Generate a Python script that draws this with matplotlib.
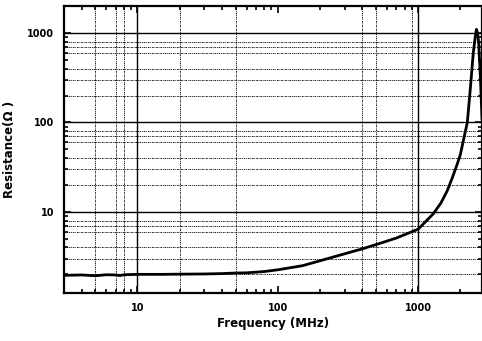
import matplotlib.pyplot as plt

# frequency in MHz, resistance in ohm
freq = [3, 4, 5, 6, 7, 7.5, 8, 10, 15, 20, 30, 40, 50, 60, 80, 100,
        150, 200, 300, 400, 500, 700, 1000, 1280, 1450, 1610, 1750,
        1900, 2000, 2100, 2240, 2350, 2470, 2550, 2600, 2650, 2700, 2780, 2850]
res = [1.95, 1.97, 1.93, 1.98, 1.97, 1.94, 1.98, 2.0, 2.0, 2.01, 2.02, 2.04, 2.07, 2.08, 2.15, 2.25,
       2.5, 2.84, 3.4, 3.86, 4.3, 5.1, 6.4, 9.5, 12.5, 17.2, 24,
       34.4, 44, 63, 100, 233, 600, 900, 1100, 1000, 770, 300, 110]

x_solid = [10, 1000]
x_dash = [5, 7, 8, 20, 50, 400, 500, 900]
y_solid = [10, 100, 1000]
y_dash = [m * d for d in (1, 10, 100) for m in (2, 3, 4, 6, 7, 8)]
major = [10, 100, 1000]
major_labels = ['10', '100', '1000']
x_minor = [m * d for d in (1, 10, 100, 1000) for m in range(2, 10) if 3 <= m * d <= 2850 and m * d not in major]
y_minor = [m * d for d in (1, 10, 100, 1000) for m in range(2, 10) if 1.24 <= m * d <= 2000 and m * d not in major]

fig = plt.figure(figsize=(4.82, 3.41), dpi=100)
ax = fig.add_axes([0.133, 0.141, 0.867, 0.841])
ax.set_xscale('log')
ax.set_yscale('log')

dash = (0, (2, 1, 1, 1))
for v in x_dash:
    ax.axvline(v, color='black', lw=0.6, ls=dash, zorder=1)
for v in x_solid:
    ax.axvline(v, color='black', lw=1.0, zorder=1)
for v in y_dash:
    ax.axhline(v, color='black', lw=0.6, ls=dash, zorder=1)
for v in y_solid:
    ax.axhline(v, color='black', lw=1.0, zorder=1)

ax.plot(freq, res, color='black', lw=2.0, zorder=3)

ax.set_xticks(major, major_labels)
ax.set_yticks(major, major_labels)
ax.set_xticks(x_minor, [], minor=True)
ax.set_yticks(y_minor, [], minor=True)
ax.set_xlim(3, 2850)
ax.set_ylim(1.24, 2000)
ax.tick_params(which='both', direction='in', top=True, right=True, width=1.2)
ax.tick_params(which='major', length=5, labelsize=7, pad=7)
ax.tick_params(which='minor', length=3)
for lab in ax.get_xticklabels() + ax.get_yticklabels():
    lab.set_fontweight('bold')
for sp in ax.spines.values():
    sp.set_linewidth(1.6)

ax.set_xlabel('Frequency (MHz)', fontsize=8.5, fontweight='bold', labelpad=3)
ax.set_ylabel('Resistance(Ω )', fontsize=8.5, fontweight='bold', labelpad=8)

fig.savefig('out.png', dpi=100)
